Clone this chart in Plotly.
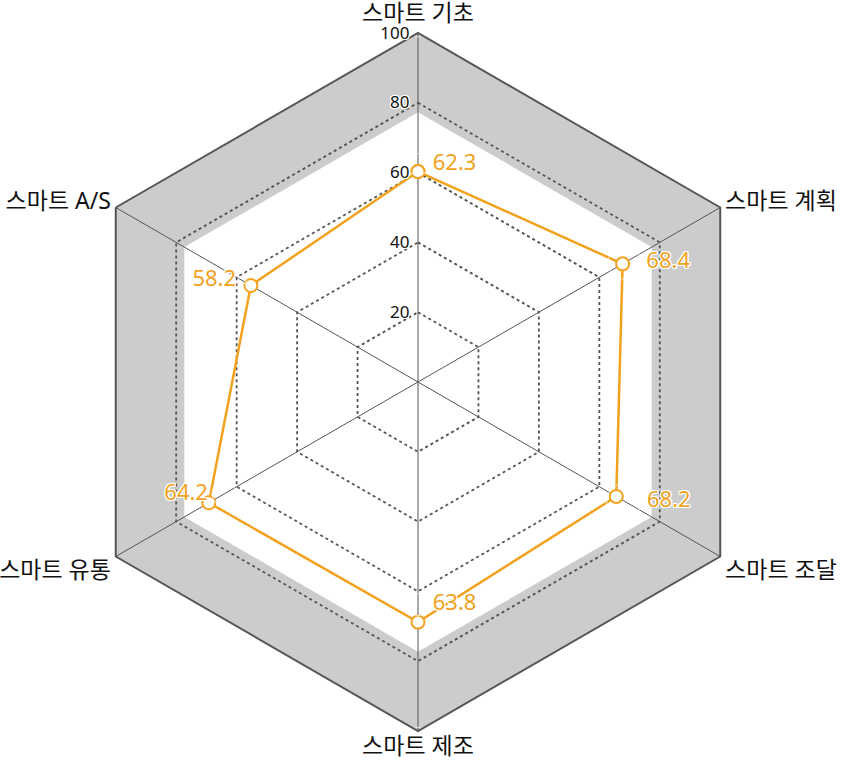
import plotly.graph_objects as go

# ---- data ----
categories = ["스마트 기초", "스마트 계획", "스마트 조달", "스마트 제조", "스마트 유통", "스마트 A/S"]
scores = [60.3, 67.7, 65.6, 68.8, 69.2, 55.3]          # plotted positions
score_labels = ["62.3", "68.4", "68.2", "63.8", "64.2", "58.2"]  # printed value labels
radial_ticks = [20, 40, 60, 80, 100]

# ---- style ----
ORANGE = "#F2A21E"
GRID = "#555555"
BAND_BG = "#cccccc"
INNER_WHITE = 77.3
FONT = "Noto Sans, Noto Sans CJK KR, sans-serif"
HALO = ("-1px -1px 0 #fff, 1px -1px 0 #fff, -1px 1px 0 #fff, 1px 1px 0 #fff, "
        "0 -1px 0 #fff, 0 1px 0 #fff, -1px 0 0 #fff, 1px 0 0 #fff")
CAT_FONT = dict(size=23, color="#111", family=FONT)

closed = categories + [categories[0]]
top_bottom = [categories[0], categories[3]]   # labels placed by a text trace

fig = go.Figure()

# white inner area
fig.add_trace(go.Scatterpolar(
    r=[INNER_WHITE] * len(closed), theta=closed, mode="lines",
    fill="toself", fillcolor="white", line=dict(width=0, color="white"),
    hoverinfo="skip", showlegend=False))

# dashed hexagon grid
for v in radial_ticks[:-1]:
    fig.add_trace(go.Scatterpolar(
        r=[v] * len(closed), theta=closed, mode="lines",
        line=dict(color=GRID, width=1.8, dash="3px,3px"),
        hoverinfo="skip", showlegend=False))

# spokes
for c in categories:
    fig.add_trace(go.Scatterpolar(
        r=[0, radial_ticks[-1]], theta=[c, c], mode="lines",
        line=dict(color=GRID, width=1),
        hoverinfo="skip", showlegend=False))

# data line with markers
fig.add_trace(go.Scatterpolar(
    r=scores + [scores[0]], theta=closed, mode="lines+markers",
    line=dict(color=ORANGE, width=2.5),
    marker=dict(size=13, color="white", line=dict(color=ORANGE, width=2)),
    hoverinfo="skip", showlegend=False))

# value labels, anchored at the printed value
fig.add_trace(go.Scatterpolar(
    r=[float(s) for s in score_labels], theta=categories, mode="markers+text",
    text=score_labels,
    textposition=["middle right", "middle right", "middle right", "middle right", "middle left", "middle left"],
    marker=dict(size=[22, 33, 35, 22, 24, 8], color="rgba(0,0,0,0)"),
    textfont=dict(color=ORANGE, size=22, family=FONT, shadow=HALO),
    cliponaxis=False, hoverinfo="skip", showlegend=False))

# top and bottom category labels
fig.add_trace(go.Scatterpolar(
    r=[radial_ticks[-1]] * 2, theta=top_bottom, mode="markers+text",
    text=top_bottom, textposition=["top center", "bottom center"],
    marker=dict(size=[8, 8], color="rgba(0,0,0,0)"),
    textfont=CAT_FONT, cliponaxis=False, hoverinfo="skip", showlegend=False))

W, H = 841, 760
cx, cy, R = 418, 382, 349
fig.update_layout(
    width=W, height=H,
    margin=dict(l=0, r=0, t=0, b=0),
    paper_bgcolor="white",
    showlegend=False,
    polar=dict(
        domain=dict(x=[(cx - R) / W, (cx + R) / W], y=[(H - cy - R) / H, (H - cy + R) / H]),
        gridshape="linear",
        bgcolor=BAND_BG,
        angularaxis=dict(
            categoryorder="array", categoryarray=categories,
            tickvals=categories,
            ticktext=["" if c in top_bottom else c for c in categories],
            direction="clockwise", rotation=90,
            showgrid=False, showline=True, linecolor=GRID, linewidth=2,
            ticks="", tickfont=CAT_FONT,
        ),
        radialaxis=dict(
            range=[0, 100], angle=90, tickangle=90, side="counterclockwise",
            tickvals=radial_ticks, ticktext=[str(t) for t in radial_ticks],
            showgrid=False, showline=False,
            ticks="outside", ticklen=2, tickcolor="rgba(0,0,0,0)",
            tickfont=dict(size=17, color="#111", family=FONT, shadow=HALO),
            layer="above traces",
        ),
    ),
)

fig.write_html("out.html")
